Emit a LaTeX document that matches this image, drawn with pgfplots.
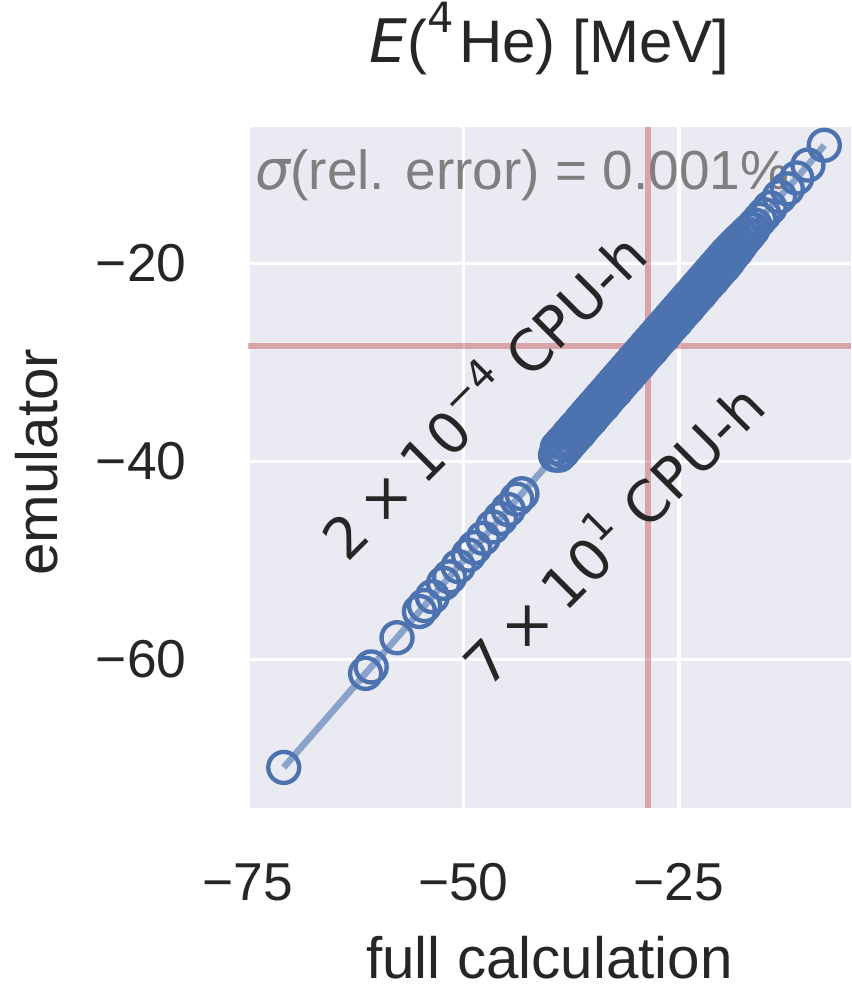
\documentclass[border=0pt]{standalone}
\usepackage{fontspec}
\setmainfont{Liberation Sans}
\newfontfamily\dejavu{DejaVu Sans}
\usepackage{pgfplots}
\pgfplotsset{compat=1.18}
\usepackage{pgfplotstable}

\definecolor{sbblue}{HTML}{4C72B0}
\definecolor{sbred}{HTML}{C44E52}
\definecolor{sbbg}{HTML}{EAEAF2}
\definecolor{sbtext}{HTML}{262626}
\definecolor{notegray}{HTML}{7F7F7F}

% full calculation vs. emulator prediction of the 4He ground-state energy (MeV)
\pgfplotstableread{
full emu
-70.85 -70.90
-61.35 -61.40
-60.70 -60.75
-57.70 -57.80
-55.10 -55.15
-54.50 -54.55
-53.60 -53.65
-52.30 -52.30
-51.60 -51.65
-50.60 -50.60
-49.40 -49.45
-48.70 -48.70
-47.70 -47.75
-46.60 -46.60
-45.70 -45.75
-44.80 -44.85
-43.80 -43.80
-43.20 -43.25
-39.30 -39.35
-39.10 -38.60
-38.85 -39.35
-38.60 -38.10
-38.40 -38.95
-38.15 -37.70
-37.90 -38.40
-37.70 -37.20
-37.45 -37.95
-37.20 -36.70
-37.00 -37.50
-36.75 -36.30
-36.50 -37.05
-36.30 -35.80
-36.05 -36.55
-35.80 -35.30
-35.60 -36.10
-35.35 -34.85
-35.10 -35.65
-34.90 -34.40
-34.65 -35.15
-34.40 -33.90
-34.20 -34.70
-33.95 -33.45
-33.70 -34.25
-33.50 -33.00
-33.25 -33.75
-33.00 -32.50
-32.80 -33.30
-32.55 -32.05
-32.30 -32.85
-32.10 -31.60
-31.85 -32.35
-31.60 -31.10
-31.40 -31.90
-31.15 -30.65
-30.90 -31.45
-30.70 -30.20
-30.45 -30.95
-30.20 -29.70
-30.00 -30.50
-29.75 -29.25
-29.50 -30.05
-29.30 -28.80
-29.05 -29.55
-28.80 -28.30
-28.60 -29.10
-28.35 -27.85
-28.10 -28.65
-27.90 -27.40
-27.65 -28.15
-27.40 -26.90
-27.20 -27.70
-26.95 -26.45
-26.70 -27.25
-26.50 -26.00
-26.25 -26.75
-26.00 -25.50
-25.80 -26.30
-25.55 -25.05
-25.30 -25.85
-25.10 -24.60
-24.85 -25.35
-24.60 -24.10
-24.40 -24.90
-24.15 -23.65
-23.90 -24.45
-23.70 -23.20
-23.45 -23.95
-23.20 -22.70
-23.00 -23.50
-22.75 -22.25
-22.50 -23.05
-22.30 -21.80
-22.05 -22.55
-21.80 -21.30
-21.60 -22.10
-21.35 -20.85
-21.10 -21.65
-20.90 -20.40
-20.65 -21.15
-20.40 -19.90
-20.20 -20.70
-19.95 -19.45
-19.70 -20.25
-19.50 -19.00
-19.25 -19.75
-19.00 -18.55
-18.80 -19.20
-18.55 -18.15
-18.30 -18.70
-18.10 -17.75
-17.85 -18.15
-17.60 -17.35
-17.40 -17.60
-17.15 -16.95
-16.90 -17.10
-16.65 -16.55
-16.40 -16.55
-16.15 -16.10
-15.60 -15.55
-15.10 -15.05
-14.40 -14.35
-13.30 -13.25
-12.40 -12.45
-11.30 -11.35
-10.00 -10.05
-8.10 -8.05
}\energies

\begin{document}
\begin{tikzpicture}
\begin{axis}[
  scale only axis, width=180.9pt, height=204.3pt,
  at={(0,0)}, anchor=south west,
  xmin=-75, xmax=-5, ymin=-75, ymax=-6.2,
  axis background/.style={fill=sbbg},
  axis line style={draw=none},
  major tick length=0pt,
  grid=major, grid style={white, line width=1.1pt},
  xtick={-75,-50,-25}, xticklabels={−75,−50,−25},
  ytick={-60,-40,-20}, yticklabels={−60,−40,−20},
  tick label style={font=\fontsize{16}{16}\selectfont, text=sbtext},
  xticklabel style={anchor=base, inner sep=0pt, yshift=-27.6pt},
  yticklabel style={anchor=east, inner sep=0pt, xshift=-18.3pt},
  xlabel={full calculation}, ylabel={emulator},
  label style={font=\fontsize{17.5}{17.5}\selectfont, text=sbtext, inner sep=0pt},
  xlabel style={at={(axis description cs:0.5,-0.2505)}, anchor=base},
  ylabel style={at={(axis description cs:-0.3167,0.508)}, anchor=base},
  every axis title shift=0pt,
  title={{\dejavu\itshape E}(\raisebox{0.5em}{\dejavu\fontsize{12.5}{12.5}\selectfont 4}\hspace{0.08em}He) [MeV]},
  title style={at={(axis description cs:0.5,1.094)}, anchor=base, inner sep=0pt,
    font=\fontsize{18}{18}\selectfont, text=sbtext},
]
\node[anchor=base west, text=notegray, inner sep=0pt, font=\fontsize{16.5}{16.5}\selectfont]
  at (axis description cs:0.0116,0.9075) {{\dejavu\itshape σ}(rel. error) = 0.001\%};

\addplot[sbblue, opacity=0.6, line width=2pt, no marks] table[x=full, y=emu] {\energies};
\addplot[sbblue, only marks, mark=o, mark size=4.65pt, mark options={line width=1.3pt}]
  table[x=full, y=emu] {\energies};

% reference value of the binding energy
\addplot[sbred, opacity=0.45, line width=1.8pt, no marks] coordinates {(-28.6,-75) (-28.6,-6.2)};
\addplot[sbred, opacity=0.45, line width=1.8pt, no marks] coordinates {(-75,-28.3) (-5,-28.3)};

\node[rotate=45, text=sbtext, font=\dejavu\fontsize{17}{17}\selectfont]
  at (axis cs:-48.0,-33.0) {2\hspace{0.22em}×\hspace{0.22em}10\raisebox{0.45em}{\fontsize{12}{12}\selectfont −4} CPU-h};
\node[rotate=45, text=sbtext, font=\dejavu\fontsize{17}{17}\selectfont]
  at (axis cs:-33.0,-47.0) {7\hspace{0.22em}×\hspace{0.22em}10\raisebox{0.45em}{\fontsize{12}{12}\selectfont 1} CPU-h};
\end{axis}
\pgfresetboundingbox
\path (-74.4pt,-53.7pt) rectangle (180.9pt,242.4pt);
\end{tikzpicture}
\end{document}
